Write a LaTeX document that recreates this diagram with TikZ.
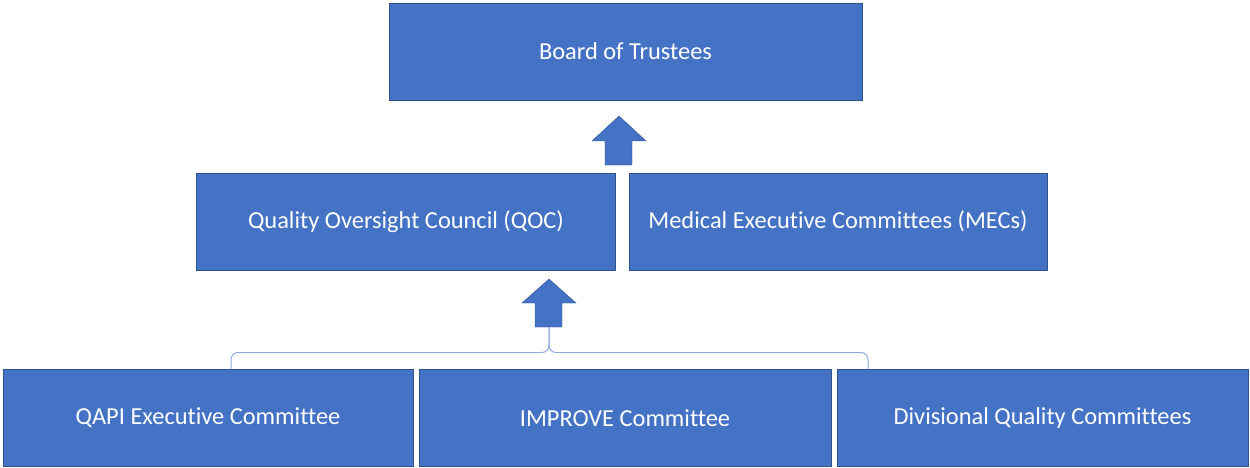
\documentclass[tikz,border=0pt]{standalone}
\usepackage{fontspec}
\setmainfont{Carlito}[Ligatures={NoCommon}]
\usepackage{xcolor}
\usetikzlibrary{positioning}
\definecolor{boxblue}{HTML}{4472C4}
\definecolor{boxedge}{HTML}{2F528F}
\definecolor{bracketblue}{HTML}{8FAADC}
\begin{document}
\begin{tikzpicture}[x=1pt,y=-1pt,line join=miter,
    orgbox/.style={rectangle,draw=boxedge,line width=0.8pt,fill=boxblue,text=white,
        font=\fontsize{24.4}{28}\selectfont,minimum height=97pt,inner sep=0pt},
    uparrow/.style={fill=boxblue,draw=boxedge,line width=0.4pt},
    bracket/.style={draw=bracketblue,line width=1pt,rounded corners=7pt}]
            %
            \useasboundingbox (0,0) rectangle (1250,468);
            %
            \node[orgbox,minimum width=473pt] (board) at (625.5,51.5) {Board of Trustees};
            \node[orgbox,minimum width=419pt] (qoc) at (406,221.5) {Quality Oversight Council (QOC)};
            \node[orgbox,minimum width=418pt] (mec) at (838,221.5) {Medical Executive Committees (MECs)};
            \node[orgbox,minimum width=410pt] (qapi) at (208,418) {QAPI Executive Committee};
            \node[orgbox,minimum width=412pt] (improve) at (625,418) {IMPROVE Committee};
            \node[orgbox,minimum width=411pt] (divisional) at (1042.5,418) {Divisional Quality Committees};
            %
            % block arrows
            \draw[uparrow] (605,165) -- (605,141) -- (592,141) -- (619,116) -- (646,141) -- (632,141) -- (632,165) -- cycle;
            \draw[uparrow] (535,327) -- (535,303) -- (522,303) -- (549,279) -- (576,303) -- (562,303) -- (562,327) -- cycle;
            %
            % bracket joining the committees
            \coordinate (bleft) at (231,369);
            \coordinate (bright) at (868,369);
            \coordinate (bstem) at (549,327);
            \draw[bracket] (bleft) -- (231,352.5) -- (549,352.5) -- (bstem);
            \draw[bracket] (bright) -- (868,352.5) -- (549,352.5) -- (bstem);
            %
        \end{tikzpicture}
\end{document}
